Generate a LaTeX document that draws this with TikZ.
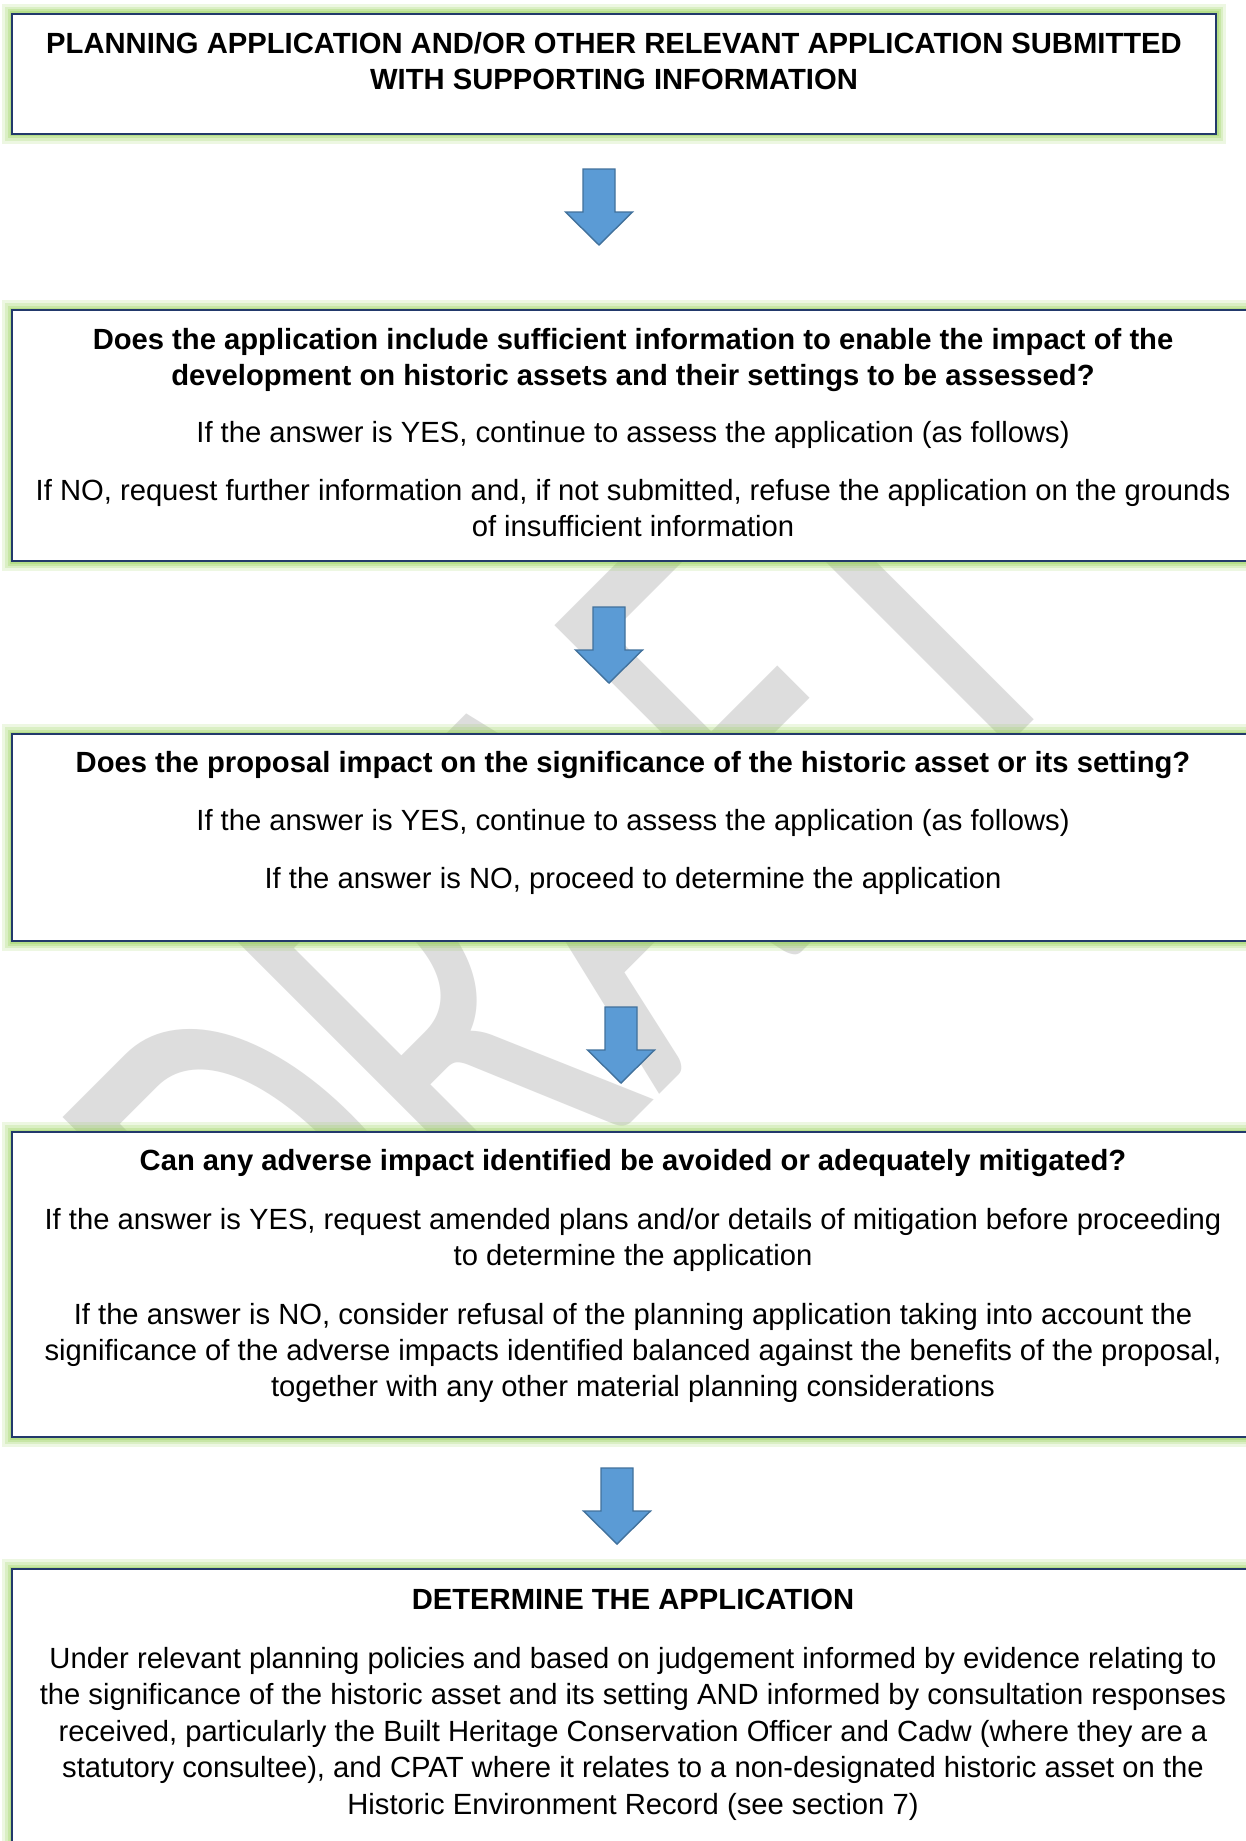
\documentclass[tikz,border=0pt]{standalone}
\usepackage{fontspec}
\setmainfont{Liberation Sans}
\newfontfamily\wmfont{Carlito}
\usepackage{graphicx}
\usetikzlibrary{fit}
\definecolor{boxline}{HTML}{22396B}
\definecolor{glowc}{HTML}{92D050}
\definecolor{arrfill}{HTML}{5B9BD5}
\definecolor{arrline}{HTML}{41719C}
\definecolor{wmgray}{HTML}{DDDDDD}
\tikzset{
  flowbox/.style={rectangle, draw=boxline, fill=white, line width=0.6pt, inner sep=0pt,
    preaction={draw=glowc, line width=10pt, draw opacity=0.16},
    preaction={draw=glowc, line width=7pt, draw opacity=0.2},
    preaction={draw=glowc, line width=4.5pt, draw opacity=0.26},
    preaction={draw=glowc, line width=2.5pt, draw opacity=0.32}},
  txt/.style={anchor=base, inner sep=0pt, font=\fontsize{14.6pt}{18pt}\selectfont},
  ttl/.style={anchor=base, inner sep=0pt, font=\fontsize{14.6pt}{18pt}\selectfont\bfseries},
  blockarrow/.style={fill=arrfill, draw=arrline, line width=0.7pt, line join=miter},
  pics/downarrow/.style={code={\path[blockarrow] (-16,0) -- (16,0) -- (16,43) -- (33.5,43) -- (0,76) -- (-33.5,43) -- (-16,43) -- cycle;}}
}
\begin{document}
\begin{tikzpicture}[x=0.5pt,y=-0.5pt]
\useasboundingbox (0,0) rectangle (1246,1841);
\clip (0,0) rectangle (1246,1841);
\fill[white] (0,0) rectangle (1246,1841);
% watermark
\node[anchor=base west, inner sep=0pt, rotate=45, text=wmgray,
  font=\wmfont\fontsize{316pt}{316pt}\selectfont] (wm) at (330,1424) {\scalebox{0.634}[1]{DRAFT}};
% boxes
\node[flowbox, fit={(12,14) (1216,134)}] (b1) {};
\node[flowbox, fit={(12,310) (1254,561)}] (b2) {};
\node[flowbox, fit={(12,734) (1254,941)}] (b3) {};
\node[flowbox, fit={(12,1132) (1254,1437)}] (b4) {};
\node[flowbox, fit={(12,1569) (1254,1880)}] (b5) {};
% arrows
\pic (a1) at (599,169) {downarrow};
\pic (a2) at (609,607) {downarrow};
\pic (a3) at (621,1007) {downarrow};
\pic (a4) at (617,1468) {downarrow};
% box 1
\node[ttl] (t1a) at (614,53.5) {PLANNING APPLICATION AND/OR OTHER RELEVANT APPLICATION SUBMITTED};
\node[ttl] (t1b) at (614,90) {WITH SUPPORTING INFORMATION};
% box 2
\node[ttl] (t2a) at (633,349) {Does the application include sufficient information to enable the impact of the};
\node[ttl] (t2b) at (633,385) {development on historic assets and their settings to be assessed?};
\node[txt] (t2c) at (633,442) {If the answer is YES, continue to assess the application (as follows)};
\node[txt] (t2d) at (633,500) {If NO, request further information and, if not submitted, refuse the application on the grounds};
\node[txt] (t2e) at (633,536) {of insufficient information};
% box 3
\node[ttl] (t3a) at (633,772) {Does the proposal impact on the significance of the historic asset or its setting?};
\node[txt] (t3b) at (633,830) {If the answer is YES, continue to assess the application (as follows)};
\node[txt] (t3c) at (633,888) {If the answer is NO, proceed to determine the application};
% box 4
\node[ttl] (t4a) at (633,1170) {Can any adverse impact identified be avoided or adequately mitigated?};
\node[txt] (t4b) at (633,1229) {If the answer is YES, request amended plans and/or details of mitigation before proceeding};
\node[txt] (t4c) at (633,1265) {to determine the application};
\node[txt] (t4d) at (633,1324) {If the answer is NO, consider refusal of the planning application taking into account the};
\node[txt] (t4e) at (633,1360.5) {significance of the adverse impacts identified balanced against the benefits of the proposal,};
\node[txt] (t4f) at (633,1396) {together with any other material planning considerations};
% box 5
\node[ttl] (t5a) at (633,1609.5) {DETERMINE THE APPLICATION};
\node[txt] (t5b) at (633,1668) {Under relevant planning policies and based on judgement informed by evidence relating to};
\node[txt] (t5c) at (633,1704.5) {the significance of the historic asset and its setting AND informed by consultation responses};
\node[txt] (t5d) at (633,1741) {received, particularly the Built Heritage Conservation Officer and Cadw (where they are a};
\node[txt] (t5e) at (633,1777.5) {statutory consultee), and CPAT where it relates to a non-designated historic asset on the};
\node[txt] (t5f) at (633,1814) {Historic Environment Record (see section 7)};
\end{tikzpicture}
\end{document}
